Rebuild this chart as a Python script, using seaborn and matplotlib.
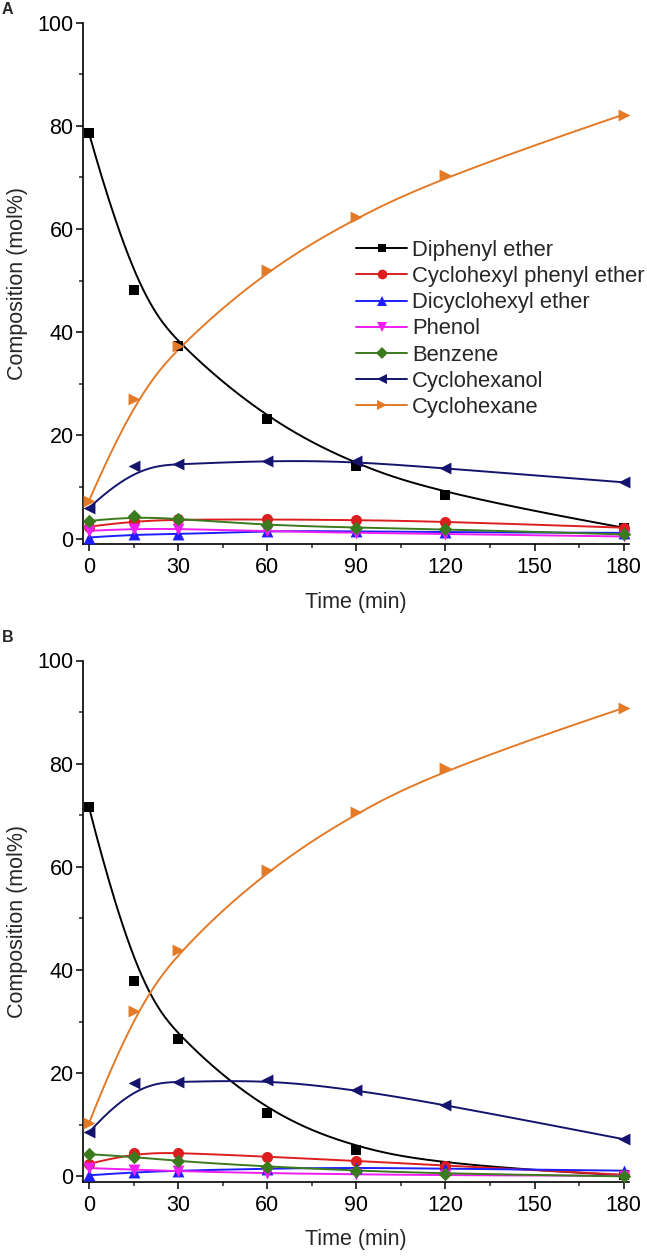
import numpy as np
import pandas as pd
import matplotlib
matplotlib.use("Agg")
import matplotlib.pyplot as plt
from matplotlib.lines import Line2D
from matplotlib.ticker import MultipleLocator
import seaborn as sns

# ---------------- data ----------------
time_min = [0, 15, 30, 60, 90, 120, 180]
species = ["Diphenyl ether", "Cyclohexyl phenyl ether", "Dicyclohexyl ether",
           "Phenol", "Benzene", "Cyclohexanol", "Cyclohexane"]

# Panel A
a_diphenyl_ether = [78.6, 48.1, 37.4, 23.1, 14.0, 8.4, 2.1]
a_cyclohexyl_phenyl_ether = [2.3, 3.4, 3.7, 3.7, 3.6, 3.3, 2.1]
a_dicyclohexyl_ether = [0.2, 0.8, 0.8, 1.5, 1.4, 1.2, 1.1]
a_phenol = [1.5, 1.9, 1.9, 1.4, 1.1, 0.9, 0.4]
a_benzene = [3.4, 4.3, 3.8, 2.6, 2.1, 1.8, 0.8]
a_cyclohexanol = [5.9, 14.0, 14.4, 15.1, 15.0, 13.6, 10.9]
a_cyclohexane = [7.3, 27.1, 37.4, 52.1, 62.4, 70.4, 82.2]

# Panel B
b_diphenyl_ether = [71.6, 37.9, 26.7, 12.3, 5.2, 2.1, 0.2]
b_cyclohexyl_phenyl_ether = [2.4, 4.6, 4.6, 3.8, 3.0, 2.1, 0.3]
b_dicyclohexyl_ether = [0.2, 0.8, 1.1, 1.5, 1.7, 1.5, 1.1]
b_phenol = [1.6, 1.3, 1.0, 0.6, 0.4, 0.2, 0.1]
b_benzene = [4.3, 3.8, 2.9, 1.9, 1.1, 0.5, 0.0]
b_cyclohexanol = [8.5, 18.1, 18.3, 18.7, 16.8, 13.9, 7.2]
b_cyclohexane = [10.3, 32.1, 43.9, 59.4, 70.7, 79.2, 90.8]

x_ticks = [0, 30, 60, 90, 120, 150, 180]
y_ticks = [0, 20, 40, 60, 80, 100]
panel_labels = ["A", "B"]

panel_a = [a_diphenyl_ether, a_cyclohexyl_phenyl_ether, a_dicyclohexyl_ether,
           a_phenol, a_benzene, a_cyclohexanol, a_cyclohexane]
panel_b = [b_diphenyl_ether, b_cyclohexyl_phenyl_ether, b_dicyclohexyl_ether,
           b_phenol, b_benzene, b_cyclohexanol, b_cyclohexane]

# ---------------- style ----------------
colors = ["#000000", "#dc1e1e", "#1e1eff", "#f01ef0", "#3c7a1e", "#14146e", "#e27a28"]
markers = ["s", "o", "^", "v", "D", "<", ">"]
msizes = [6.0, 7.0, 7.5, 7.5, 6.0, 7.5, 7.5]

sns.set_style("ticks")
plt.rcParams["font.family"] = ["Liberation Sans", "DejaVu Sans"]
FS = 15.5
LFS = 15.8


def bspline(xs, ys, k=3, n=300):
    P = np.column_stack([xs, ys]).astype(float)
    m = len(P)
    t = np.concatenate([np.zeros(k), np.linspace(0, 1, m - k + 1), np.ones(k)])
    u = np.linspace(0, 1, n)
    u[-1] = 1 - 1e-12
    B = np.array([((t[i] <= u) & (u < t[i + 1])).astype(float) for i in range(len(t) - 1)])
    for p in range(1, k + 1):
        Bn = np.zeros((len(t) - 1 - p, n))
        for i in range(len(t) - 1 - p):
            d1 = t[i + p] - t[i]
            d2 = t[i + p + 1] - t[i + 1]
            a = (u - t[i]) / d1 * B[i] if d1 > 0 else 0.0
            b = (t[i + p + 1] - u) / d2 * B[i + 1] if d2 > 0 else 0.0
            Bn[i] = a + b
        B = Bn
    C = B.T @ P
    return C[:, 0], C[:, 1]


fig = plt.figure(figsize=(6.47, 12.57), dpi=100)
W, H = 647, 1257
ax_left, ax_w, ax_h = 83.3 / W, 545.7 / W, 521.0 / H
axA = fig.add_axes([ax_left, (H - 543.7) / H, ax_w, ax_h])
axB = fig.add_axes([ax_left, (H - 1181.5) / H, ax_w, ax_h])

for ax, data in [(axA, panel_a), (axB, panel_b)]:
    for vals, c in zip(data, colors):
        cx, cy = bspline(time_min, vals)
        df = pd.DataFrame({"t": cx, "v": cy})
        sns.lineplot(data=df, x="t", y="v", ax=ax, color=c, lw=1.4,
                     sort=False, estimator=None, legend=False, zorder=2)
    for vals, c, m, ms in zip(data, colors, markers, msizes):
        dfp = pd.DataFrame({"t": time_min, "v": vals})
        sns.scatterplot(data=dfp, x="t", y="v", ax=ax, color=c, marker=m,
                        s=ms ** 2 * 1.3, linewidth=0, legend=False, zorder=3,
                        clip_on=False)
    ax.set_xlim(-1.9, 181.8)
    ax.set_ylim(-1.0, 100)
    ax.set_xticks(x_ticks)
    ax.set_yticks(y_ticks)
    ax.xaxis.set_minor_locator(MultipleLocator(15))
    ax.yaxis.set_minor_locator(MultipleLocator(10))
    ax.tick_params(which="major", direction="out", length=5, width=1.1,
                   labelsize=FS, colors="#000000")
    ax.tick_params(axis="x", which="major", pad=4.8)
    ax.tick_params(axis="y", which="major", pad=2.0)
    ax.tick_params(which="minor", direction="out", length=3, width=1.1)
    for s in ["top", "right"]:
        ax.spines[s].set_visible(False)
    for s in ["left", "bottom"]:
        ax.spines[s].set_linewidth(1.2)
        ax.spines[s].set_color("#000000")
    ax.set_xlabel("Time (min)", fontsize=FS, labelpad=9.5)
    ax.set_ylabel("Composition (mol%)", fontsize=FS, labelpad=7)

handles = [Line2D([0], [0], color=c, lw=1.4, marker=m, markersize=ms,
                  markeredgewidth=0) for c, m, ms in zip(colors, markers, msizes)]
axA.legend(handles, species, loc="upper left", bbox_to_anchor=(0.4997, 0.583),
           frameon=False, fontsize=LFS, handlelength=2.33, handletextpad=0.23,
           labelspacing=0.235, borderpad=0, borderaxespad=0)

fig.text(2 / W, 1 - 2 / H, panel_labels[0], fontsize=11.5, fontweight="bold",
         va="top", ha="left")
fig.text(2 / W, 1 - 630 / H, panel_labels[1], fontsize=11.5, fontweight="bold",
         va="top", ha="left")

fig.savefig("out.png", dpi=100)
